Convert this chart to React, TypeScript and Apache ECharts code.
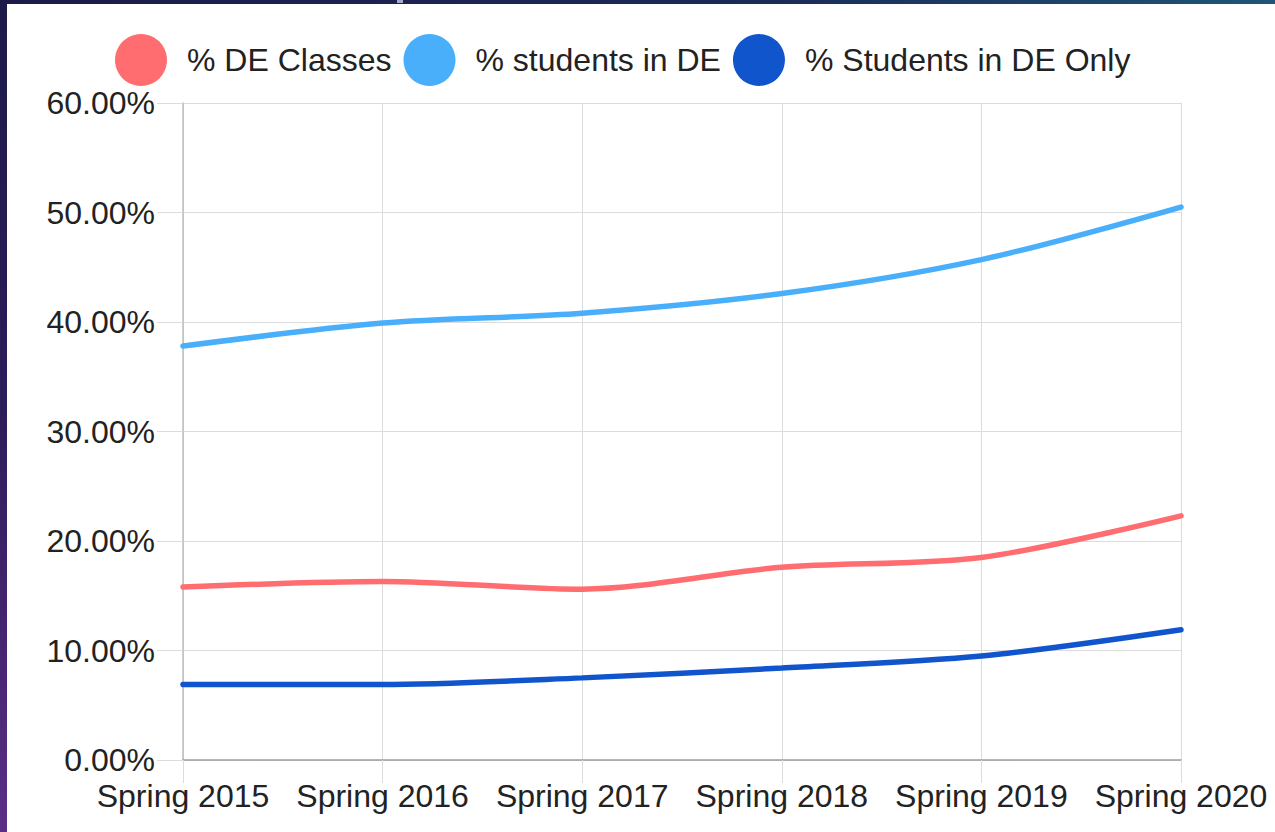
import React, { useEffect, useRef } from "react";
import * as echarts from "echarts";

const categories = ["Spring 2015", "Spring 2016", "Spring 2017", "Spring 2018", "Spring 2019", "Spring 2020"];
const deClasses = [15.8, 16.3, 15.6, 17.6, 18.5, 22.3];
const studentsInDE = [37.8, 39.9, 40.8, 42.6, 45.7, 50.5];
const studentsDEOnly = [6.9, 6.9, 7.5, 8.4, 9.5, 11.9];
const seriesNames = ["% DE Classes", "% students in DE", "% Students in DE Only"];
const yTicks = [0, 10, 20, 30, 40, 50, 60];

const FONT = "'Liberation Sans', Arial, Helvetica, sans-serif";

export default function App() {
  const ref = useRef<HTMLDivElement>(null);
  useEffect(() => {
    if (!ref.current) return;
    const chart = echarts.init(ref.current, null, { renderer: "svg" });
    const mk = (name: string, data: number[], color: string) => ({
      name,
      type: "line",
      data,
      smooth: 0.3,
      showSymbol: false,
      symbol: "circle",
      lineStyle: { width: 5.5, color, cap: "round" },
      itemStyle: { color },
    });
    chart.setOption({
      animation: false,
      backgroundColor: "#ffffff",
      textStyle: { fontFamily: FONT },
      graphic: [
        {
          type: "rect",
          shape: { x: 0, y: 0, width: 1275, height: 4 },
          style: {
            fill: new echarts.graphic.LinearGradient(0, 0, 1, 0, [
              { offset: 0, color: "#1c1a48" },
              { offset: 0.6, color: "#1b2a58" },
              { offset: 1, color: "#1f5578" },
            ]),
          },
          silent: true,
        },
        {
          type: "rect",
          shape: { x: 0, y: 0, width: 7, height: 832 },
          style: {
            fill: new echarts.graphic.LinearGradient(0, 0, 0, 1, [
              { offset: 0, color: "#1c1a48" },
              { offset: 0.5, color: "#2d1c5a" },
              { offset: 1, color: "#5b2e85" },
            ]),
          },
          silent: true,
        },
        {
          type: "rect",
          shape: { x: 397, y: 0, width: 6, height: 3 },
          style: { fill: "#a9a8c6" },
          silent: true,
        },
      ],
      legend: {
        data: seriesNames,
        left: 110,
        top: 29,
        icon: "circle",
        itemWidth: 52,
        itemHeight: 52,
        itemGap: 12,
        textStyle: {
          fontSize: 32,
          color: "#222222",
          fontFamily: FONT,
          padding: [0, 0, 0, 15],
        },
      },
      grid: { left: 183, right: 94, top: 103, bottom: 72, containLabel: false },
      xAxis: {
        type: "category",
        data: categories,
        boundaryGap: false,
        axisLine: { show: true, lineStyle: { color: "#9e9e9e", width: 1.5 } },
        axisTick: { show: true, interval: 0, length: 23, alignWithLabel: true, lineStyle: { color: "#dcdcdc" } },
        splitLine: { show: true, interval: 0, lineStyle: { color: "#dcdcdc", width: 1 } },
        axisLabel: { interval: 0, fontSize: 32, color: "#222222", margin: 20, fontFamily: FONT },
      },
      yAxis: {
        type: "value",
        min: yTicks[0],
        max: yTicks[yTicks.length - 1],
        interval: 10,
        axisLine: { show: true, lineStyle: { color: "#bdbdbd", width: 1.5 } },
        axisTick: { show: true, length: 26, lineStyle: { color: "#dcdcdc" } },
        splitLine: { show: true, lineStyle: { color: "#dcdcdc", width: 1 } },
        axisLabel: {
          fontSize: 32,
          color: "#222222",
          margin: 28,
          fontFamily: FONT,
          formatter: (v: number) => `${v.toFixed(2)}%`,
        },
      },
      series: [
        mk(seriesNames[0], deClasses, "#ff6d70"),
        mk(seriesNames[1], studentsInDE, "#4aaffb"),
        mk(seriesNames[2], studentsDEOnly, "#1155cc"),
      ],
    });
    return () => chart.dispose();
  }, []);
  return (
    <div
      ref={ref}
      style={{ position: "absolute", left: 0, top: 0, width: 1275, height: 832 }}
    />
  );
}
